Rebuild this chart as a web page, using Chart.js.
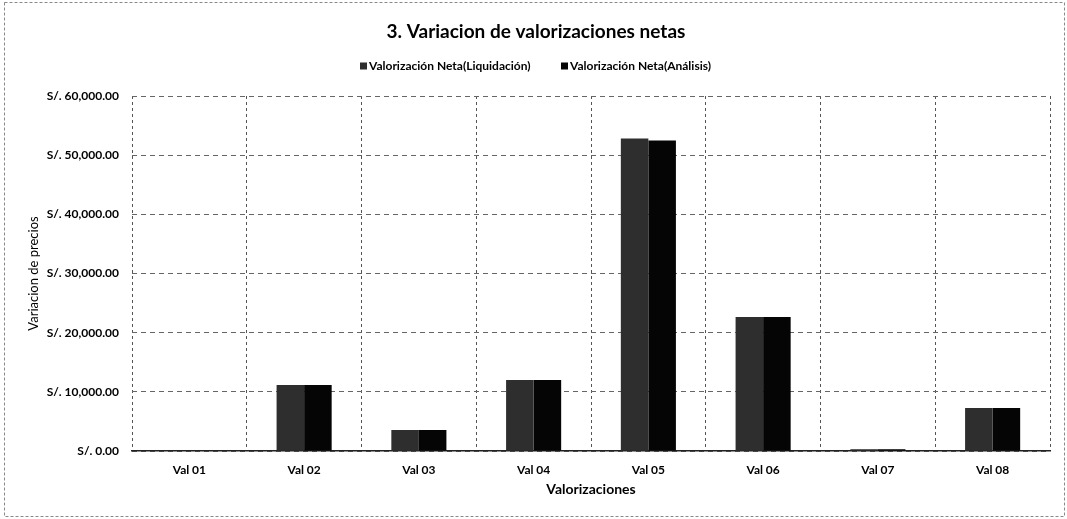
<!DOCTYPE html>
<html>
<head>
<meta charset="utf-8">
<script src="https://cdn.jsdelivr.net/npm/chart.js@4.4.0/dist/chart.umd.min.js"></script>
<style>
  html, body { margin: 0; padding: 0; background: #fff; }
  #wrap { width: 1067px; height: 519px; position: relative; }
</style>
</head>
<body>
<div id="wrap"><canvas id="c" width="1067" height="519"></canvas></div>
<script>
const categories = ['Val 01', 'Val 02', 'Val 03', 'Val 04', 'Val 05', 'Val 06', 'Val 07', 'Val 08'];
const liquidacion = [0, 11150, 3550, 12000, 52800, 22650, 300, 7270];
const analisis = [0, 11150, 3550, 12000, 52500, 22650, 300, 7270];
const yTickLabels = ['S/. 0.00', 'S/. 10,000.00', 'S/. 20,000.00', 'S/. 30,000.00', 'S/. 40,000.00', 'S/. 50,000.00', 'S/. 60,000.00'];
const seriesNames = ['Valorización Neta(Liquidación)', 'Valorización Neta(Análisis)'];
const titleText = '3. Variacion de valorizaciones netas';
const yTitle = 'Variacion de precios';
const xTitle = 'Valorizaciones';

const colors = ['#2e2e2e', '#050505'];
const FONT = 'Lato, "Open Sans", sans-serif';

const framePlugin = {
  id: 'frameLegend',
  beforeDraw(chart) {
    const ctx = chart.ctx;
    ctx.save();
    ctx.fillStyle = '#fff';
    ctx.fillRect(0, 0, chart.width, chart.height);
    ctx.strokeStyle = '#8a8a8a';
    ctx.lineWidth = 1;
    ctx.setLineDash([3, 2]);
    ctx.strokeRect(4.5, 2.5, 1060, 514);
    ctx.restore();
  },
  afterDraw(chart) {
    const ctx = chart.ctx;
    ctx.save();
    ctx.font = 'bold 12px ' + FONT;
    ctx.textBaseline = 'middle';
    const y = 66;
    const pos = [[360, 369], [561, 570]];
    chart.data.datasets.forEach((ds, i) => {
      ctx.fillStyle = ds.backgroundColor;
      ctx.fillRect(pos[i][0], y - 3.5, 7, 7);
      ctx.fillStyle = '#000';
      ctx.fillText(ds.label, pos[i][1], y + 0.5);
    });
    ctx.restore();
  }
};

new Chart(document.getElementById('c'), {
  type: 'bar',
  data: {
    labels: categories,
    datasets: [
      { label: seriesNames[0], data: liquidacion, backgroundColor: colors[0], borderWidth: 0 },
      { label: seriesNames[1], data: analisis, backgroundColor: colors[1], borderWidth: 0 }
    ]
  },
  options: {
    responsive: false,
    animation: false,
    devicePixelRatio: 1,
    layout: { padding: { left: 22, right: 17, top: 0, bottom: 17 } },
    datasets: { bar: { categoryPercentage: 0.48, barPercentage: 1.0 } },
    plugins: {
      legend: { display: false },
      tooltip: { enabled: false },
      title: {
        display: true,
        text: titleText,
        color: '#000',
        font: { family: FONT, size: 19, weight: 'bold' },
        padding: { top: 20, bottom: 53.2 }
      }
    },
    scales: {
      x: {
        grid: { display: true, offset: true, drawTicks: false, color: '#555', lineWidth: 1 },
        border: { display: true, color: '#222', width: 1.5, dash: [3, 3] },
        ticks: { color: '#000', padding: 12, font: { family: FONT, size: 12, weight: 'bold' } },
        title: { display: true, text: xTitle, color: '#000', font: { family: FONT, size: 14, weight: 'bold' }, padding: { top: 4, bottom: 4 } },
        afterFit(scale) { scale.height = 51; }
      },
      y: {
        min: 0,
        max: 60000,
        grid: { drawTicks: false, color: '#666', lineWidth: 1 },
        border: { display: false, dash: [5, 4] },
        ticks: {
          stepSize: 10000,
          color: '#000',
          padding: 13,
          font: { family: FONT, size: 12, weight: 'bold' },
          callback: (v, i) => yTickLabels[i]
        },
        title: { display: true, text: yTitle, color: '#000', font: { family: FONT, size: 13 }, padding: { top: 4, bottom: 4 } },
        afterFit(scale) { scale.width = 110; }
      }
    }
  },
  plugins: [framePlugin]
});
</script>
</body>
</html>
